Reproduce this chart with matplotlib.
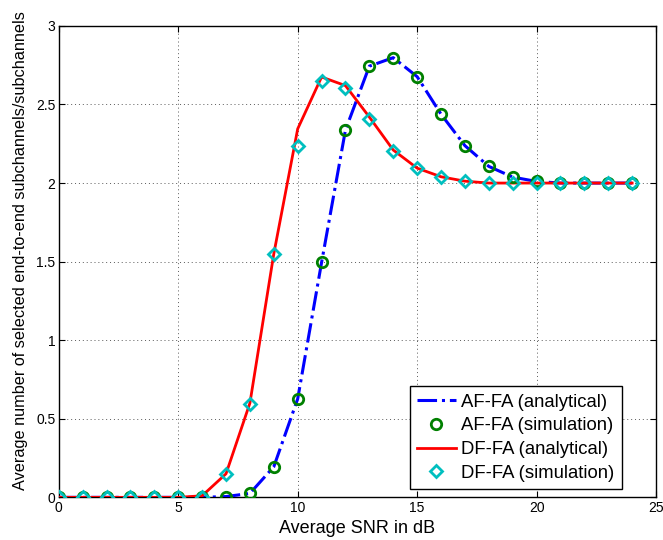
import matplotlib
matplotlib.use("Agg")
import matplotlib.pyplot as plt

snr = list(range(0, 25))

af_analytical = [0, 0, 0, 0, 0, 0, 0.0, 0.005, 0.025, 0.195, 0.627, 1.495, 2.338, 2.744,
                 2.798, 2.677, 2.438, 2.238, 2.106, 2.038, 2.01, 2.0, 2.0, 2.0, 2.0]
af_simulation = [0, 0, 0, 0, 0, 0, 0.0, 0.005, 0.025, 0.195, 0.627, 1.495, 2.338, 2.744,
                 2.798, 2.677, 2.438, 2.238, 2.106, 2.038, 2.01, 2.0, 2.0, 2.0, 2.0]
df_analytical = [0, 0, 0, 0, 0, 0, 0.01, 0.15, 0.6, 1.55, 2.345, 2.675, 2.62, 2.42,
                 2.21, 2.095, 2.04, 2.012, 2.0, 2.0, 2.0, 2.0, 2.0, 2.0, 2.0]
df_simulation = [0, 0, 0, 0, 0, 0, 0.003, 0.147, 0.591, 1.551, 2.233, 2.648, 2.604, 2.406,
                 2.202, 2.093, 2.038, 2.01, 2.0, 2.0, 2.0, 2.0, 2.0, 2.0, 2.0]

xticks = [0, 5, 10, 15, 20, 25]
yticks = [0, 0.5, 1, 1.5, 2, 2.5, 3]
xtick_labels = ["0", "5", "10", "15", "20", "25"]
ytick_labels = ["0", "0.5", "1", "1.5", "2", "2.5", "3"]

plt.rcParams['font.family'] = ['Liberation Sans', 'DejaVu Sans']

fig = plt.figure(figsize=(6.63, 5.4), dpi=100)
ax = fig.add_axes([0.0887, 0.079, 0.9008, 0.873])

ax.plot(snr, af_analytical, color=(0, 0, 1), linestyle='-.', linewidth=2.2,
        label='AF-FA (analytical)', zorder=3)
ax.plot(snr, af_simulation, linestyle='none', marker='o', markersize=7.5,
        markerfacecolor='none', markeredgecolor=(0, 0.5, 0), markeredgewidth=2,
        label='AF-FA (simulation)', zorder=4)
ax.plot(snr, df_analytical, color=(1, 0, 0), linestyle='-', linewidth=2,
        label='DF-FA (analytical)', zorder=3)
ax.plot(snr, df_simulation, linestyle='none', marker='D', markersize=6.5,
        markerfacecolor='none', markeredgecolor=(0, 0.75, 0.75), markeredgewidth=2,
        label='DF-FA (simulation)', zorder=5)

ax.set_xlim(0, 25)
ax.set_ylim(0, 3)
ax.set_xticks(xticks)
ax.set_xticklabels(xtick_labels)
ax.set_yticks(yticks)
ax.set_yticklabels(ytick_labels)
ax.tick_params(direction='in', top=True, right=True, labelsize=10, length=4, width=0.8, pad=2.5)
ax.grid(True, linestyle=(0, (1, 3)), color='0.35', linewidth=0.7)
for s in ax.spines.values():
    s.set_linewidth(1.0)

ax.set_xlabel('Average SNR in dB', fontsize=13, labelpad=4)
ax.set_ylabel('Average number of selected end-to-end subchannels/subchannels', fontsize=11.7)
ax.yaxis.set_label_coords(-0.052, 0.523)

leg = ax.legend(loc='lower right', bbox_to_anchor=(0.943, 0.0176), fontsize=13.3,
                frameon=True, fancybox=False, edgecolor='black', framealpha=1,
                handlelength=2.1, handletextpad=0.3, borderpad=0.4, labelspacing=0.36,
                borderaxespad=0)
leg.get_frame().set_linewidth(1.0)

fig.savefig('out.png', dpi=100)
